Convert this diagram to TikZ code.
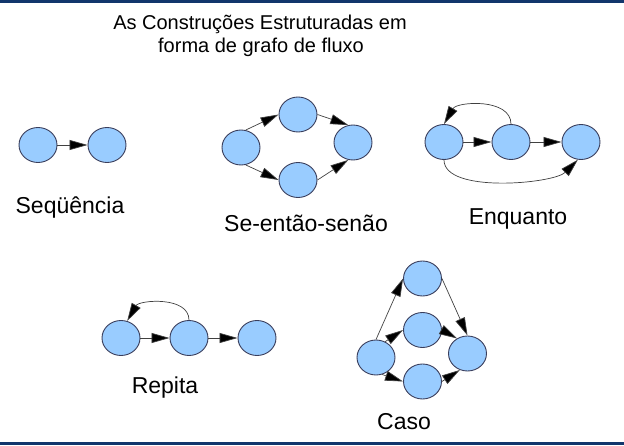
\documentclass[tikz,border=0pt]{standalone}
\usepackage{fontspec}
\setmainfont{Liberation Sans}
\usetikzlibrary{shapes.geometric,arrows.meta}

\definecolor{bandblue}{RGB}{18,54,108}
\definecolor{nodeblue}{RGB}{153,204,255}
\definecolor{nodeedge}{RGB}{58,62,92}

\begin{document}
\begin{tikzpicture}[x=1pt, y=1pt]

% --- Styles ---
\tikzset{
    band/.style={fill=bandblue},
    state/.style={ellipse, fill=nodeblue, draw=nodeedge, line width=0.9pt,
        minimum width=38pt, minimum height=35pt, inner sep=0pt},
    title/.style={font=\fontsize{20}{24}\selectfont, anchor=base},
    caption/.style={font=\fontsize{23}{27}\selectfont, anchor=base},
    arrow/.style={
        -{Triangle[length=18pt, width=10pt, fill=black]},
        line width=0.7pt,
        draw=black!75
    }
}

\useasboundingbox (0, 0) rectangle (624, 445);

% Bands top and bottom
\fill[band] (0, 442) rectangle (624, 445);
\fill[band] (0, 0) rectangle (624, 3);

% Titel
\node[title] (title1) at (260, 415) {As Construções Estruturadas em};
\node[title] (title2) at (261, 392) {forma de grafo de fluxo};

% Sequencia
\node[state] (s1) at (38, 300) {};
\node[state] (s2) at (107, 300) {};
\node[caption] (seq) at (70, 231) {Seqüência};
\draw[arrow] (s1.east) -- (s2.west);

% Se-entao-senao
\node[state] (sl) at (241, 297.5) {};
\node[state] (st) at (298, 330.5) {};
\node[state] (sb) at (298, 265) {};
\node[state] (sr) at (353, 302.5) {};
\node[caption] (ses) at (306, 213) {Se-então-senão};
\draw[arrow] (sl.75) -- (st.west);
\draw[arrow] (sl.-75) -- (sb.west);
\draw[arrow] (st.east) -- (sr.105);
\draw[arrow] (sb.east) -- (sr.-105);

% Enquanto
\node[state] (e1) at (444, 303) {};
\node[state] (e2) at (511, 303) {};
\node[state] (e3) at (581, 303) {};
\node[caption] (enq) at (518, 220) {Enquanto};
\draw[arrow] (e1.east) -- (e2.west);
\draw[arrow] (e2.east) -- (e3.west);
\draw[arrow] (e2.north) to[out=90, in=60] (e1.north);
\draw[arrow] (e1.south) to[out=-90, in=-135, looseness=0.65] (e3.-100);

% Repita
\node[state] (r1) at (121, 107) {};
\node[state] (r2) at (189, 107) {};
\node[state] (r3) at (257, 107) {};
\node[caption] (rep) at (165, 52) {Repita};
\draw[arrow] (r1.east) -- (r2.west);
\draw[arrow] (r2.east) -- (r3.west);
\draw[arrow] (r2.north) to[out=90, in=60] (r1.70);

% Caso
\node[state] (ct) at (422.5, 166.5) {};
\node[state] (cm) at (422.5, 115) {};
\node[state] (cb) at (422.5, 63.5) {};
\node[state] (cl) at (376, 87.5) {};
\node[state] (cr) at (467.5, 91.5) {};
\node[caption] (caso) at (404, 16) {Caso};
\draw[arrow] (cl.north) -- (ct.west);
\draw[arrow] (cl.60) -- (cm.west);
\draw[arrow] (cl.-70) -- (cb.west);
\draw[arrow] (ct.east) -- (cr.north);
\draw[arrow] (cm.east) -- (cr.125);
\draw[arrow] (cb.east) -- (cr.-115);

\end{tikzpicture}
\end{document}
